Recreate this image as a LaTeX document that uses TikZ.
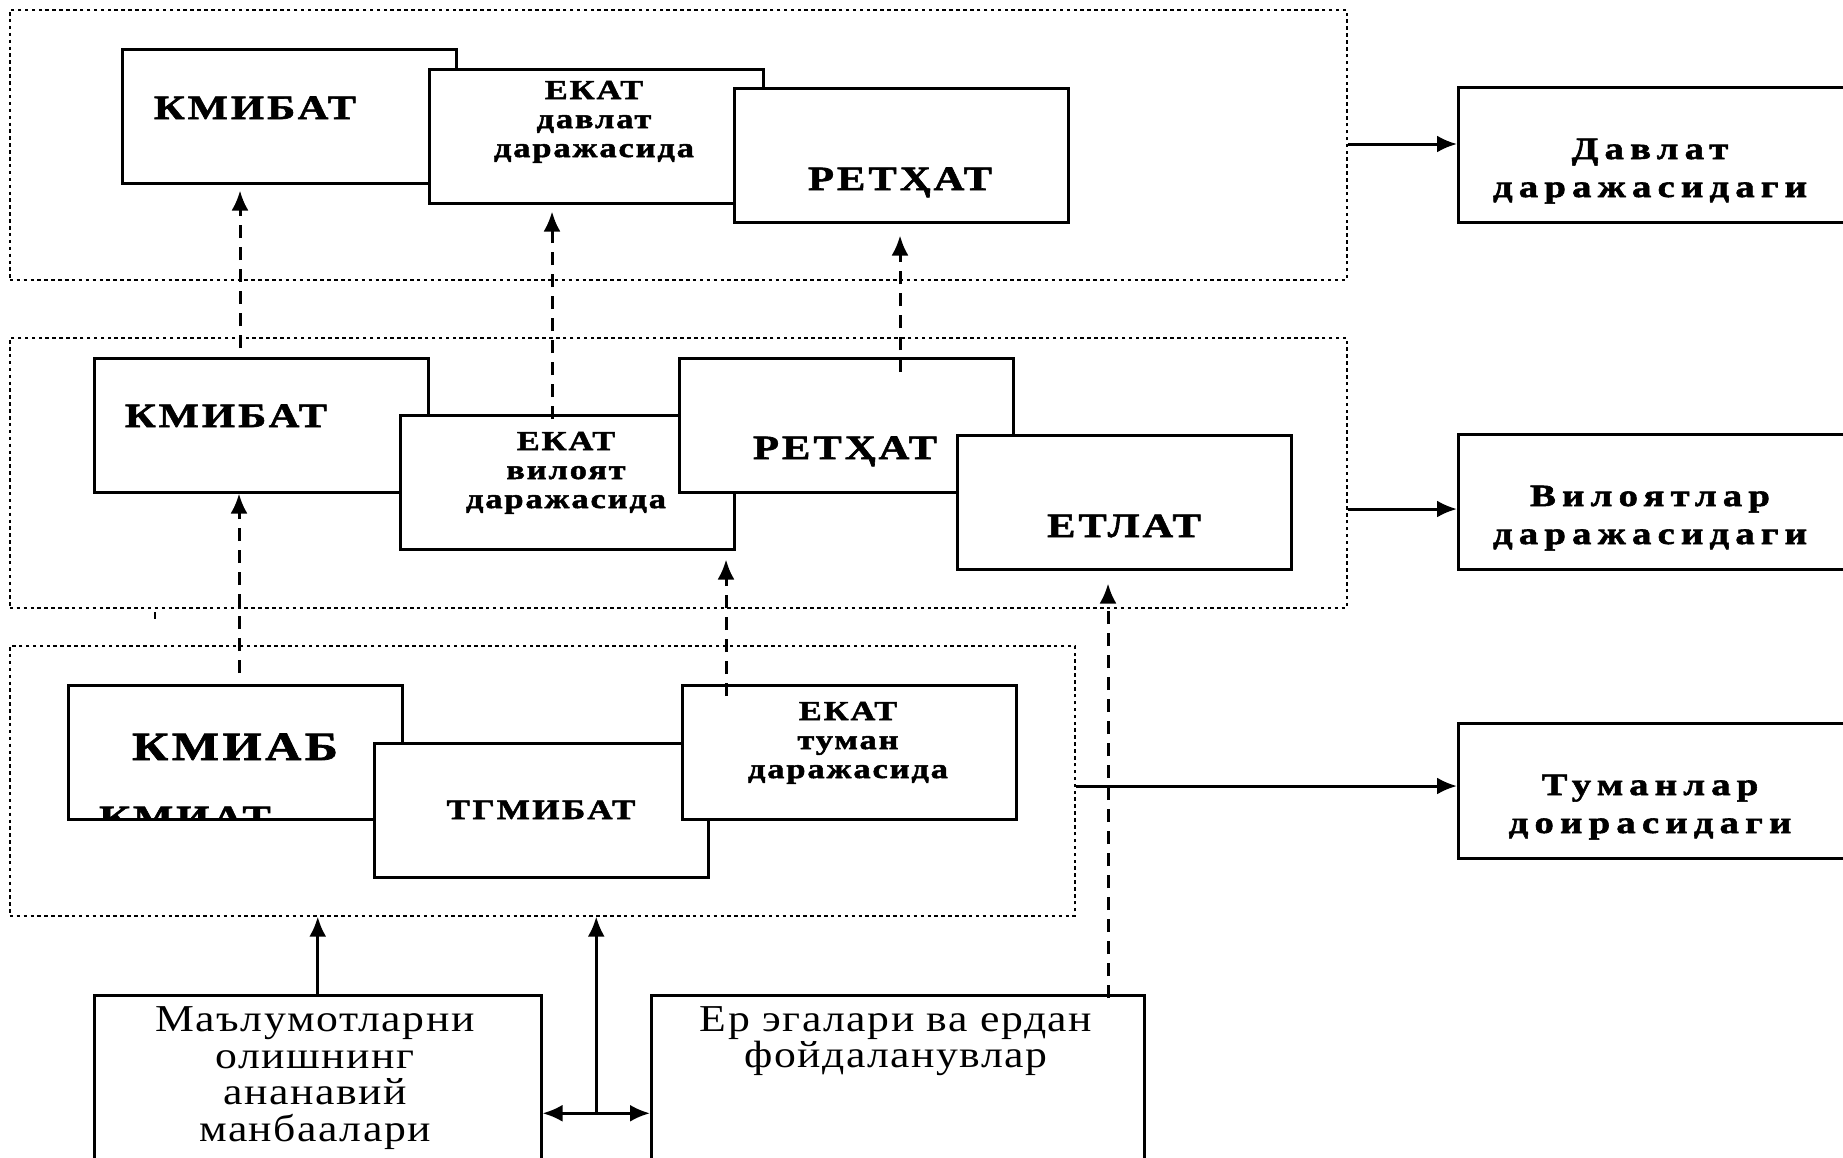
\documentclass[tikz,border=0pt]{standalone}
\usepackage{fontspec}
\setmainfont{Liberation Serif}
\newfontfamily\boxfont[FakeStretch=1.25,LetterSpace=9,FakeBold=1.8]{Liberation Serif Bold}
\newfontfamily\levelfont[FakeStretch=1.25,LetterSpace=7,FakeBold=1.8]{Liberation Serif Bold}
\newfontfamily\sidefont[FakeStretch=1.25,LetterSpace=20,FakeBold=1.8]{Liberation Serif Bold}
\newfontfamily\srcfont[FakeStretch=1.15,LetterSpace=4]{Liberation Serif}
\usetikzlibrary{arrows.meta,calc}
\tikzset{>={Latex[length=20pt,width=17pt]}}
\tikzset{
  levelframe/.style = {draw, line width=1.6pt, dash pattern=on 3.5pt off 3.4pt, anchor=north west, inner sep=0pt},
  unitbox/.style = {draw, fill=white, line width=2.5pt, anchor=north west, inner sep=0pt, minimum width=334pt, minimum height=134pt},
  sidebox/.style = {unitbox, minimum width=400pt, minimum height=135pt},
  srcbox/.style = {unitbox, minimum height=236pt},
  bigname/.style = {anchor=base, inner sep=0pt, font=\boxfont\fontsize{34}{34}\selectfont},
  smallname/.style = {anchor=base, inner sep=0pt, align=center, font=\levelfont\fontsize{27.5}{29}\selectfont},
  sidename/.style = {anchor=base, inner sep=0pt, align=center, font=\sidefont\fontsize{31}{38}\selectfont},
  srcname/.style = {anchor=base, inner sep=0pt, align=center, font=\srcfont\fontsize{38}{36.5}\selectfont},
  link/.style = {->, line width=3pt},
  uplink/.style = {->, line width=3pt, dash pattern=on 13pt off 9pt}
}

\begin{document}
\begin{tikzpicture}[x=1pt,y=-1pt]
  \useasboundingbox (0,0) rectangle (1843,1157);
  % level frames
  \node[levelframe, minimum width=1337pt, minimum height=270pt] (f1) at (9,9) {};
  \node[levelframe, minimum width=1337pt, minimum height=270pt] (f2) at (9,337) {};
  \node[levelframe, minimum width=1065pt, minimum height=270pt] (f3) at (9,645) {};
  % state level
  \node[unitbox] (k1) at (121,48) {};
  \node[unitbox] (e1) at (428,68) {};
  \node[unitbox] (r1) at (733,87) {};
  \node[bigname] (k1t) at (255,119) {КМИБАТ};
  \node[smallname] (e1t) at (594,157) {ЕКАТ\\давлат\\даражасида};
  \node[bigname] (r1t) at (900,190) {РЕТҲАТ};
  % region level
  \node[unitbox] (k2) at (93,357) {};
  \node[unitbox] (e2) at (399,414) {};
  \node[unitbox] (r2) at (678,357) {};
  \node[unitbox] (et) at (956,434) {};
  \node[bigname] (k2t) at (226,427) {КМИБАТ};
  \node[smallname] (e2t) at (566,508) {ЕКАТ\\вилоят\\даражасида};
  \node[bigname] (r2t) at (845,459) {РЕТҲАТ};
  \node[bigname] (ett) at (1124,537) {ЕТЛАТ};
  % district level
  \node[unitbox] (km) at (67,684) {};
  \begin{scope}
    \clip ($(km.north west)+(2,2)$) rectangle ($(km.south east)+(-2,-2)$);
    \node[bigname] (kmh) at (185,829) {КМИАТ};
  \end{scope}
  \node[unitbox] (tg) at (373,742) {};
  \node[unitbox] (e3) at (681,684) {};
  \node[bigname, font=\boxfont\fontsize{40}{40}\selectfont] (kmt) at (235,760) {КМИАБ};
  \node[bigname, font=\boxfont\fontsize{28}{28}\selectfont] (tgt) at (541,819) {ТГМИБАТ};
  \node[smallname] (e3t) at (848,778) {ЕКАТ\\туман\\даражасида};
  % right column
  \node[sidebox] (d1) at (1457,86) {};
  \node[sidebox] (v1) at (1457,433) {};
  \node[sidebox] (tu) at (1457,722) {};
  \node[sidename] (d1t) at (1650,197) {Давлат\\даражасидаги};
  \node[sidename] (v1t) at (1650,544) {Вилоятлар\\даражасидаги};
  \node[sidename] (tut) at (1650,833) {Туманлар\\доирасидаги};
  % sources
  \node[srcbox, minimum width=447pt] (m) at (93,994) {};
  \node[srcbox, minimum width=493pt] (er) at (650,994) {};
  \node[srcname] (mt) at (315,1141) {Маълумотларни\\олишнинг\\ананавий\\манбаалари};
  \node[srcname, font=\srcfont\fontsize{38}{36}\selectfont] (ert) at (896,1067) {Ер эгалари ва ердан\\фойдаланувлар};
  % links to the right
  \draw[link] ($(f1.north east)+(0,135)$) coordinate (o1) -- (o1 -| d1.west);
  \draw[link] ($(f2.north east)+(0,172)$) coordinate (o2) -- (o2 -| v1.west);
  \draw[link] ($(f3.north east)+(0,141)$) coordinate (o3) -- (o3 -| tu.west);
  % links from sources
  \draw[link] (m.north) -- (m.north |- f3.south);
  \draw[link,<->] (m.east) -- (er.west);
  \draw[link] ($(m.east)!0.5!(er.west)$) coordinate (j) -- (j |- f3.south);
  % upward dashed links
  \draw[uplink] ($(k2.north west)+(147,-9)$) -- ($(k1.south west)+(119,6)$);
  \draw[uplink] ($(e2.north west)+(153,5)$) -- ($(e1.south west)+(124,7)$);
  \draw[uplink] ($(r2.north west)+(222,15)$) -- ($(r1.south west)+(167,12)$);
  \draw[uplink] ($(km.north west)+(172,-11)$) -- ($(k2.south west)+(146,0)$);
  \draw[uplink] ($(e3.north west)+(45,12)$) -- ($(e2.south west)+(327,9)$);
  \draw[uplink] ($(er.north west)+(458,4)$) -- ($(et.south west)+(152,13)$);
  \draw[line width=2pt] (155,612) -- (155,619);
\end{tikzpicture}
\end{document}
